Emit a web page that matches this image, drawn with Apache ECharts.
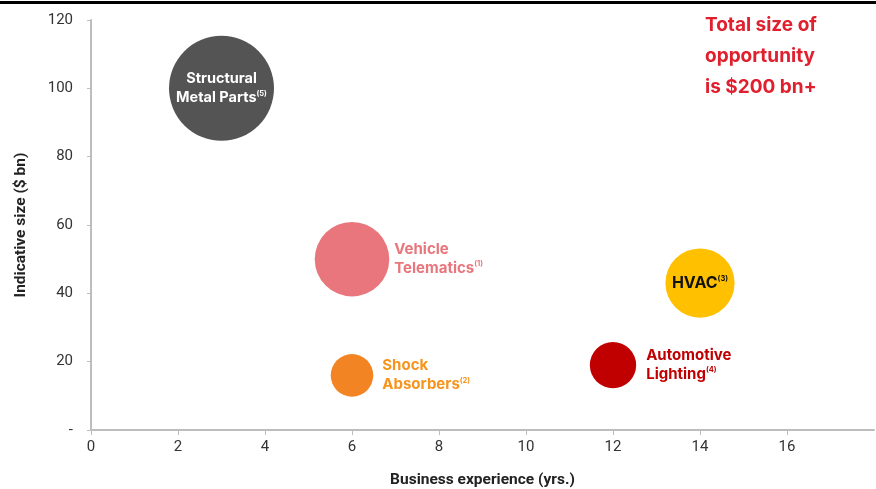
<!DOCTYPE html>
<html><head><meta charset="utf-8">
<script src="https://cdn.jsdelivr.net/npm/echarts@6/dist/echarts.min.js"></script>
<style>html,body{margin:0;padding:0;background:#fff}#c{width:876px;height:489px}</style>
</head><body><div id="c"></div>
<script>
const names = ['Structural Metal Parts', 'Vehicle Telematics', 'Shock Absorbers', 'HVAC', 'Automotive Lighting'];
const notes = ['(5)', '(1)', '(2)', '(3)', '(4)'];
const experience = [3, 6, 6, 14, 12];
const sizeBn = [100, 50, 16, 43, 19];
const xTicks = [0, 2, 4, 6, 8, 10, 12, 14, 16];
const yTicks = [0, 20, 40, 60, 80, 100, 120];
const noteText = ['Total size of', 'opportunity', 'is $200 bn+'];

const colors = ['#545454', '#E8767C', '#F38424', '#FFC000', '#C00000'];
const labelColors = ['#ffffff', '#E8767C', '#F7941D', '#111111', '#C00000'];
const labelPos = ['inside', 'right', 'right', 'inside', 'right'];
const labelDist = [0, 5, 9, 0, 10];
const labelFont = [14.5, 15, 15, 16, 15];
const FONT = 'Inter, Roboto, sans-serif';
const AXFONT = 'Roboto, "Liberation Sans", sans-serif';

function labelText(i) {
  const words = names[i].split(' ');
  let l1, l2;
  if (words.length === 1) return '{b|' + words[0] + '}{s|' + notes[i] + '}';
  if (i === 0) { l1 = 'Structural'; l2 = 'Metal Parts'; }
  else { l1 = words[0]; l2 = words.slice(1).join(' '); }
  return '{b|' + l1 + '}\n{b|' + l2 + '}{s|' + notes[i] + '}';
}

const data = names.map((n, i) => ({
  name: n,
  value: [experience[i], sizeBn[i]],
  itemStyle: { color: colors[i] },
  label: {
    show: true,
    position: labelPos[i],
    distance: labelDist[i],
    formatter: labelText(i),
    align: labelPos[i] === 'inside' ? 'center' : 'left',
    rich: {
      b: { fontFamily: FONT, fontWeight: 'bold', fontSize: labelFont[i], color: labelColors[i], lineHeight: 19 },
      s: { fontFamily: FONT, fontWeight: 'bold', fontSize: 7.5, color: labelColors[i], padding: [0, 0, 9, 0] }
    }
  }
}));

const chart = echarts.init(document.getElementById('c'));
chart.setOption({
  animation: false,
  grid: { left: 91, right: 2, top: 20, bottom: 59, containLabel: false, outerBoundsMode: 'none' },
  xAxis: {
    type: 'value', min: 0, max: 18, interval: 2,
    name: 'Business experience (yrs.)', nameLocation: 'middle', nameGap: 42,
    nameTextStyle: { fontFamily: AXFONT, fontWeight: 'bold', fontSize: 15.5, color: '#222' },
    axisLine: { lineStyle: { color: '#bdbdbd', width: 2 } },
    axisTick: { show: true, length: 5, lineStyle: { color: '#bdbdbd' }, customValues: xTicks },
    axisLabel: { fontFamily: AXFONT, fontSize: 15, color: '#333', margin: 10, customValues: xTicks },
    splitLine: { show: false }
  },
  yAxis: {
    type: 'value', min: 0, max: 120, interval: 20,
    name: 'Indicative size ($ bn)', nameLocation: 'middle', nameGap: 62, nameRotate: 90,
    nameTextStyle: { fontFamily: AXFONT, fontWeight: 'bold', fontSize: 15.5, color: '#222' },
    axisLine: { show: true, lineStyle: { color: '#bdbdbd', width: 2 } },
    axisTick: { show: true, length: 4, lineStyle: { color: '#bdbdbd' }, customValues: yTicks },
    axisLabel: { fontFamily: AXFONT, fontSize: 15, color: '#333', margin: 18, customValues: yTicks,
      formatter: v => v === 0 ? '-' : String(v) },
    splitLine: { show: false }
  },
  series: [{
    type: 'scatter',
    data: data,
    symbolSize: v => Math.sqrt(v[1]) * 10.4 + 1,
    itemStyle: { opacity: 1 }
  }],
  graphic: [
    { type: 'rect', left: 0, top: 1, shape: { width: 876, height: 3 }, style: { fill: '#000' } },
    { type: 'text', left: 705, top: 10,
      style: { text: noteText.join('\n'), fontFamily: FONT, fontWeight: 'bold', fontSize: 19, lineHeight: 31, fill: '#E0202E' } }
  ]
});
</script></body></html>
